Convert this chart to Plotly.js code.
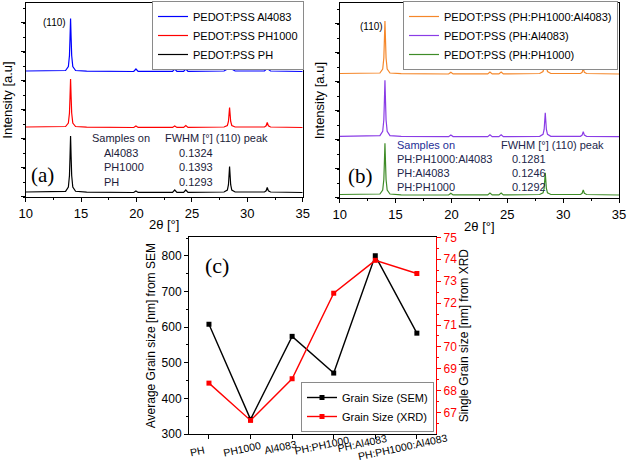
<!DOCTYPE html>
<html>
<head>
<meta charset="utf-8">
<script src="https://cdn.plot.ly/plotly-3.0.1.min.js"></script>
<style>html,body{margin:0;padding:0;background:#fff;}#chart{width:628px;height:463px;}</style>
</head>
<body>
<div id="chart"></div>
<script>
// ---------- XRD patterns (2θ in degrees, intensity in arbitrary stacked units) ----------
const twoTheta = [10, 13.6, 13.85, 13.95, 14.0, 14.05, 14.1, 14.15, 14.25, 14.5, 15.5, 19.75, 19.95, 20.15, 23.25, 23.45, 23.65, 24.25, 24.45, 24.65, 27.9, 28.2, 28.3, 28.4, 28.5, 28.6, 28.9, 31.55, 31.7, 31.8, 31.9, 32.1, 35];

// panel (a)
const intAl4083 = [126, 126.5, 130.5, 141.5, 159, 178.5, 159, 141.5, 130.5, 126.5, 125.8, 125.5, 128, 125.6, 125.6, 128, 125.6, 125.6, 128, 125.6, 126, 128, 133, 150, 133, 128, 126, 126, 127.5, 131.5, 127.5, 126, 125.5];
const intPH1000 = [70, 70.5, 74, 84, 100, 118, 100, 84, 74, 70.5, 69.8, 69.5, 71, 69.6, 69.6, 71, 69.6, 69.6, 71.5, 69.6, 70, 71.5, 75.5, 89.5, 75.5, 71.5, 70, 70, 71.2, 74.5, 71.2, 70, 69.5];
const intPH = [5, 5.7, 10, 21.5, 40, 61, 40, 21.5, 10, 5.7, 4.8, 4.5, 6, 4.6, 4.6, 7, 4.6, 4.6, 7, 4.6, 5, 7, 12.3, 30.5, 12.3, 7, 5, 5, 6.2, 9.5, 6.2, 5, 4.5];

// panel (b)
const intPHPH1000Al4083 = [124.8, 125.3, 129.3, 140.3, 158, 177.3, 158, 140.3, 129.3, 125.3, 124.6, 124.3, 126, 124.4, 124.4, 126.3, 124.4, 124.4, 126.3, 124.4, 124.8, 126.8, 131.5, 148.3, 131.5, 126.8, 124.8, 124.8, 126, 130, 126, 124.8, 124.3];
const intPHAl4083 = [62, 62.7, 67, 78.5, 97, 118, 97, 78.5, 67, 62.7, 61.9, 61.6, 63.3, 61.7, 61.7, 63.6, 61.7, 61.7, 63.6, 61.7, 62, 64, 68.8, 85.6, 68.8, 64, 62, 62, 63.2, 66.6, 63.2, 62, 61.6];
const intPHPH1000 = [3.8, 4.3, 8.2, 18.8, 35.8, 55, 35.8, 18.8, 8.2, 4.3, 3.5, 3.3, 5, 3.4, 3.4, 5.2, 3.4, 3.4, 5.2, 3.4, 3.8, 5.5, 10, 25.6, 10, 5.5, 3.8, 3.8, 5, 8.3, 5, 3.8, 3.3];

// FWHM tables
const fwhmSamplesA = ['Al4083', 'PH1000', 'PH'];
const fwhmValuesA = ['0.1324', '0.1393', '0.1293'];
const fwhmSamplesB = ['PH:PH1000:Al4083', 'PH:Al4083', 'PH:PH1000'];
const fwhmValuesB = ['0.1281', '0.1246', '0.1292'];

// ---------- panel (c): grain sizes ----------
const samples = ['PH', 'PH1000', 'Al4083', 'PH:PH1000', 'PH:Al4083', 'PH:PH1000:Al4083'];
const grainSEM = [608, 341, 574, 471, 800, 583];
const grainXRD = [68.35, 66.65, 68.55, 72.45, 73.95, 73.35];

const lineW = 1.2;
const traces = [
  {x: twoTheta, y: intAl4083, xaxis: 'x', yaxis: 'y', mode: 'lines', name: 'PEDOT:PSS Al4083', line: {color: '#0000ff', width: lineW}, legend: 'legend'},
  {x: twoTheta, y: intPH1000, xaxis: 'x', yaxis: 'y', mode: 'lines', name: 'PEDOT:PSS PH1000', line: {color: '#ff0000', width: lineW}, legend: 'legend'},
  {x: twoTheta, y: intPH, xaxis: 'x', yaxis: 'y', mode: 'lines', name: 'PEDOT:PSS PH', line: {color: '#000000', width: lineW}, legend: 'legend'},
  {x: twoTheta, y: intPHPH1000Al4083, xaxis: 'x2', yaxis: 'y2', mode: 'lines', name: 'PEDOT:PSS (PH:PH1000:Al4083)', line: {color: '#f5872a', width: lineW}, legend: 'legend2'},
  {x: twoTheta, y: intPHAl4083, xaxis: 'x2', yaxis: 'y2', mode: 'lines', name: 'PEDOT:PSS (PH:Al4083)', line: {color: '#8a3ce6', width: lineW}, legend: 'legend2'},
  {x: twoTheta, y: intPHPH1000, xaxis: 'x2', yaxis: 'y2', mode: 'lines', name: 'PEDOT:PSS (PH:PH1000)', line: {color: '#3f8c28', width: lineW}, legend: 'legend2'},
  {x: samples, y: grainSEM, xaxis: 'x3', yaxis: 'y3', mode: 'lines+markers', name: 'Grain Size (SEM)', line: {color: '#000000', width: 1.4}, marker: {symbol: 'square', size: 5, color: '#000000'}, legend: 'legend3'},
  {x: samples, y: grainXRD, xaxis: 'x3', yaxis: 'y4', mode: 'lines+markers', name: 'Grain Size (XRD)', line: {color: '#ff0000', width: 1.4}, marker: {symbol: 'square', size: 5, color: '#ff0000'}, legend: 'legend3'}
];

const W = 628, H = 463;
const fx = px => px / W;
const fy = py => 1 - py / H;

const xrdX = (dom, anchor) => ({
  domain: dom, anchor: anchor, range: [10, 35], tick0: 10, dtick: 5,
  ticks: 'outside', ticklen: 4, tickcolor: '#000',
  minor: {dtick: 2.5, ticks: 'outside', ticklen: 2, tickcolor: '#000'},
  showline: true, mirror: true, linecolor: '#000', linewidth: 1,
  showgrid: false, zeroline: false, tickfont: {size: 13},
  title: {text: '2θ [°]', font: {size: 13}, standoff: 0}
});
const xrdY = (dom, anchor, top) => ({
  domain: dom, anchor: anchor, range: [0, top], showticklabels: false,
  tick0: 1, dtick: 29, ticks: 'outside', ticklen: 4, tickcolor: '#000',
  minor: {dtick: 14.5, ticks: 'outside', ticklen: 2, tickcolor: '#000'},
  showline: true, mirror: true, linecolor: '#000', linewidth: 1,
  showgrid: false, zeroline: false,
  title: {text: 'Intensity [a.u]', font: {size: 13}, standoff: 7}
});

const tableColA = '#1c1c3a';
const annotations = [];
// panel (a) annotations
annotations.push({xref: 'x', yref: 'y', x: 12.64, y: 174.3, text: '(110)', showarrow: false, font: {size: 10}});
annotations.push({xref: 'x', yref: 'y', x: 11.56, y: 22, text: '(a)', showarrow: false, font: {size: 21, family: 'Liberation Serif, Times New Roman, serif'}});
annotations.push({xref: 'x', yref: 'y', x: 15.8, y: 59, xanchor: 'left', text: 'Samples on', showarrow: false, font: {size: 11, color: tableColA}});
annotations.push({xref: 'x', yref: 'y', x: 22.42, y: 59, xanchor: 'left', text: 'FWHM [°] (110) peak', showarrow: false, font: {size: 11, color: tableColA}});
const rowYA = [44.5, 30, 15.5];
fwhmSamplesA.forEach((s, i) => {
  annotations.push({xref: 'x', yref: 'y', x: 16.86, y: rowYA[i], xanchor: 'left', text: s, showarrow: false, font: {size: 11, color: tableColA}});
  annotations.push({xref: 'x', yref: 'y', x: 23.63, y: rowYA[i], xanchor: 'left', text: fwhmValuesA[i], showarrow: false, font: {size: 11, color: tableColA}});
});
// panel (b) annotations
const tableColB = '#22264a';
annotations.push({xref: 'x2', yref: 'y2', x: 12.89, y: 172.3, text: '(110)', showarrow: false, font: {size: 10}});
annotations.push({xref: 'x2', yref: 'y2', x: 11.9, y: 22.3, text: '(b)', showarrow: false, font: {size: 21, family: 'Liberation Serif, Times New Roman, serif'}});
annotations.push({xref: 'x2', yref: 'y2', x: 14.95, y: 53.3, xanchor: 'left', text: 'Samples on', showarrow: false, font: {size: 11, color: '#1e2f96'}});
annotations.push({xref: 'x2', yref: 'y2', x: 24.26, y: 53.3, xanchor: 'left', text: 'FWHM [°] (110) peak', showarrow: false, font: {size: 11, color: tableColB}});
const rowYB = [39, 25.3, 11.3];
fwhmSamplesB.forEach((s, i) => {
  annotations.push({xref: 'x2', yref: 'y2', x: 14.95, y: rowYB[i], xanchor: 'left', text: s, showarrow: false, font: {size: 11, color: tableColB}});
  annotations.push({xref: 'x2', yref: 'y2', x: 25.25, y: rowYB[i], xanchor: 'left', text: fwhmValuesB[i], showarrow: false, font: {size: 11, color: tableColB}});
});
// panel (c)
annotations.push({xref: 'x3', yref: 'y3', x: 0.19, y: 772, text: '(c)', showarrow: false, font: {size: 22, family: 'Liberation Serif, Times New Roman, serif'}});
// rotated category labels of panel (c), placed under their ticks (label layout: centre offset in px, centre y in px)
const catLabelDx = [-11, -9, -12, -11.5, -13, -14.5];
const catLabelY = [451, 448.5, 447, 445, 443, 446.5];
samples.forEach((s, i) => {
  annotations.push({xref: 'x3', yref: 'paper', x: s, y: fy(catLabelY[i]), xanchor: 'center', yanchor: 'middle', xshift: catLabelDx[i], text: s, textangle: -12, showarrow: false, font: {size: 10.5}});
});

const legendBase = {bgcolor: '#ffffff', bordercolor: '#8a8a8a', borderwidth: 1, font: {size: 11}, tracegroupgap: 0, itemwidth: 30};

const layout = {
  width: W, height: H,
  margin: {l: 0, r: 0, t: 0, b: 0},
  paper_bgcolor: '#ffffff', plot_bgcolor: '#ffffff',
  font: {family: 'Liberation Sans, Arial, sans-serif', size: 12, color: '#000'},
  showlegend: true,
  xaxis: xrdX([fx(25.7), fx(302.7)], 'y'),
  yaxis: xrdY([fy(197), fy(3)], 'x', 194),
  xaxis2: xrdX([fx(339.7), fx(619)], 'y2'),
  yaxis2: xrdY([fy(198.3), fy(3)], 'x2', 195.3),
  xaxis3: {
    domain: [fx(189), fx(436)], anchor: 'y3', type: 'category', range: [-0.48, 5.46],
    ticks: 'outside', ticklen: 4, tickcolor: '#000', showticklabels: false,
    showline: true, mirror: true, linecolor: '#000', linewidth: 1,
    showgrid: false, zeroline: false
  },
  yaxis3: {
    domain: [fy(434), fy(237.3)], anchor: 'x3', range: [300, 852], dtick: 100,
    ticks: 'outside', ticklen: 4, tickcolor: '#000',
    minor: {dtick: 50, ticks: 'outside', ticklen: 2, tickcolor: '#000'},
    showline: true, mirror: false, linecolor: '#000', linewidth: 1,
    showgrid: false, zeroline: false, tickfont: {size: 12},
    title: {text: 'Average Grain size [nm] from SEM', font: {size: 12}, standoff: 3}
  },
  yaxis4: {
    overlaying: 'y3', anchor: 'x3', side: 'right', range: [66.03, 75], dtick: 1,
    ticks: 'outside', ticklen: 4, tickcolor: '#ff0000',
    minor: {dtick: 0.5, ticks: 'outside', ticklen: 2, tickcolor: '#ff0000'},
    showline: true, linecolor: '#ff0000', linewidth: 1.2,
    showgrid: false, zeroline: false, tickfont: {size: 12, color: '#ff0000'},
    title: {text: 'Single Grain size [nm] from XRD', font: {size: 12, color: '#000'}, standoff: 2}
  },
  legend: Object.assign({}, legendBase, {x: fx(304), xanchor: 'right', y: fy(1), yanchor: 'top'}),
  legend2: Object.assign({}, legendBase, {x: fx(618), xanchor: 'right', y: fy(1), yanchor: 'top'}),
  legend3: Object.assign({}, legendBase, {x: fx(434), xanchor: 'right', y: fy(432), yanchor: 'bottom'}),
  annotations: annotations
};

Plotly.newPlot('chart', traces, layout, {displayModeBar: false, staticPlot: true});
</script>
</body>
</html>
